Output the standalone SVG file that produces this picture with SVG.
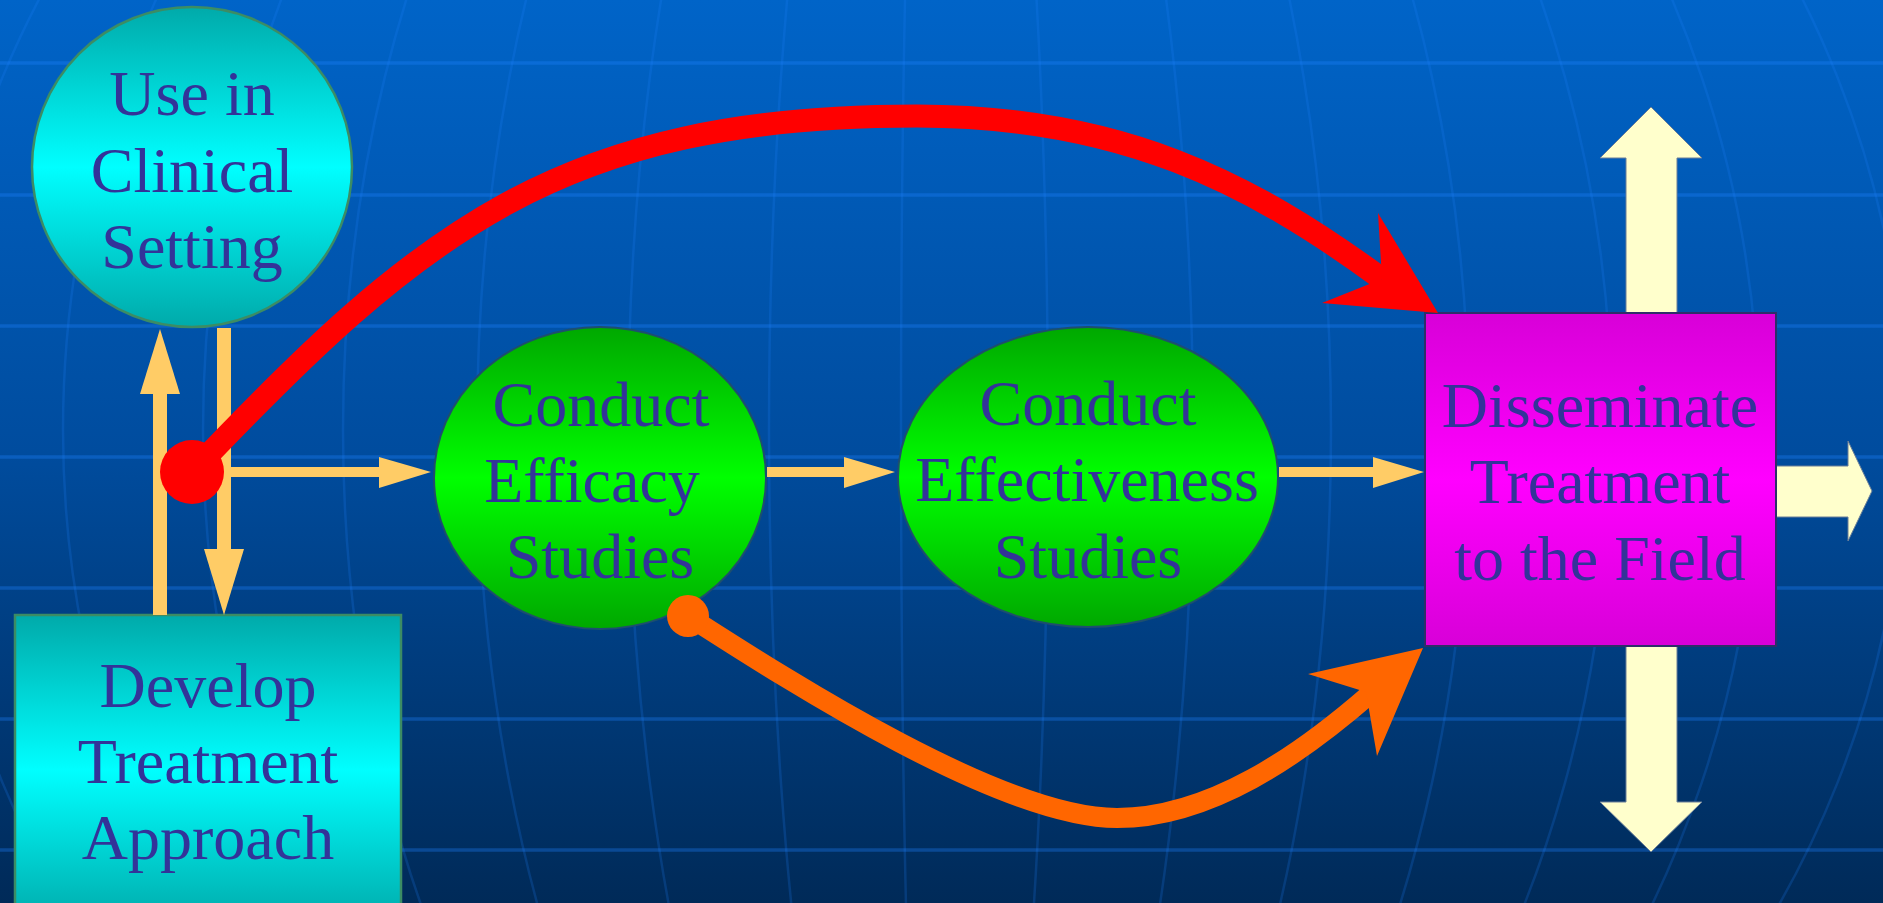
<svg xmlns="http://www.w3.org/2000/svg" width="1883" height="903" viewBox="0 0 1883 903">
  <defs>
    <linearGradient id="bg" x1="0" y1="0" x2="0" y2="1">
      <stop offset="0" stop-color="#0064C8"/>
      <stop offset="0.5" stop-color="#004C9E"/>
      <stop offset="1" stop-color="#002A58"/>
    </linearGradient>
    <linearGradient id="cyan" x1="0" y1="0" x2="0" y2="1">
      <stop offset="0" stop-color="#00AAAA"/>
      <stop offset="0.5" stop-color="#00FFFF"/>
      <stop offset="1" stop-color="#00AAAA"/>
    </linearGradient>
    <linearGradient id="green" x1="0" y1="0" x2="0" y2="1">
      <stop offset="0" stop-color="#00A800"/>
      <stop offset="0.5" stop-color="#00FF00"/>
      <stop offset="1" stop-color="#00A800"/>
    </linearGradient>
    <linearGradient id="magenta" x1="0" y1="0" x2="0" y2="1">
      <stop offset="0" stop-color="#D800D8"/>
      <stop offset="0.5" stop-color="#FF00FF"/>
      <stop offset="1" stop-color="#D800D8"/>
    </linearGradient>
    <style>
      .label { font-family: "Liberation Serif", "Times New Roman", serif; font-size: 64px; fill: #333399; text-anchor: middle; }
      .grid-h { stroke: #1E82FF; stroke-opacity: 0.33; stroke-width: 3.5; fill: none; }
      .grid-v { stroke: #1E82FF; stroke-opacity: 0.2; stroke-width: 2.5; fill: none; }
      .flow { fill: #FFCC66; }
      .spread { fill: #FFFFCC; stroke: #6A7F99; stroke-width: 1; }
    </style>
  </defs>

  <!-- backdrop: gradient with a globe-like grid -->
  <rect x="0" y="0" width="1883" height="903" fill="url(#bg)"/>
  <g id="grid">
    <path class="grid-h" d="M0 63H1883M0 195H1883M0 326H1883M0 457H1883M0 588H1883M0 719H1883M0 850H1883"/>
    <path class="grid-v" d="M940 -530A1008 960 0 0 0 940 1390"/>
    <path class="grid-v" d="M940 -530A877 960 0 0 0 940 1390"/>
    <path class="grid-v" d="M940 -530A737 960 0 0 0 940 1390"/>
    <path class="grid-v" d="M940 -530A597 960 0 0 0 940 1390"/>
    <path class="grid-v" d="M940 -530A463 960 0 0 0 940 1390"/>
    <path class="grid-v" d="M940 -530A312 960 0 0 0 940 1390"/>
    <path class="grid-v" d="M940 -530A171 960 0 0 0 940 1390"/>
    <path class="grid-v" d="M940 -530A39 960 0 0 0 940 1390"/>
    <path class="grid-v" d="M940 -530A108 960 0 0 1 940 1390"/>
    <path class="grid-v" d="M940 -530A253 960 0 0 1 940 1390"/>
    <path class="grid-v" d="M940 -530A391 960 0 0 1 940 1390"/>
    <path class="grid-v" d="M940 -530A529 960 0 0 1 940 1390"/>
    <path class="grid-v" d="M940 -530A672 960 0 0 1 940 1390"/>
    <path class="grid-v" d="M940 -530A819 960 0 0 1 940 1390"/>
    <path class="grid-v" d="M940 -530A965 960 0 0 1 940 1390"/>
  </g>

  <g id="node-use">
    <circle cx="192" cy="167" r="160" fill="url(#cyan)" stroke="#3C8C64" stroke-width="2.5"/>
    <text class="label" x="192" y="115">Use in</text>
    <text class="label" x="192" y="192">Clinical</text>
    <text class="label" x="192" y="268">Setting</text>
  </g>

  <g id="node-develop">
    <rect x="15" y="615" width="386" height="310" fill="url(#cyan)" stroke="#3C8C64" stroke-width="2.5"/>
    <text class="label" x="208" y="707">Develop</text>
    <text class="label" x="208" y="783">Treatment</text>
    <text class="label" x="208" y="859">Approach</text>
  </g>

  <g id="node-efficacy">
    <ellipse cx="600" cy="478" rx="166" ry="151" fill="url(#green)" stroke="#1D4F6E" stroke-width="2"/>
    <text class="label" x="601" y="426">Conduct</text>
    <text class="label" x="592" y="502">Efficacy</text>
    <text class="label" x="600" y="578">Studies</text>
  </g>

  <g id="node-effectiveness">
    <ellipse cx="1088" cy="477" rx="190" ry="150" fill="url(#green)" stroke="#1D4F6E" stroke-width="2"/>
    <text class="label" x="1088" y="425">Conduct</text>
    <text class="label" x="1087" y="501">Effectiveness</text>
    <text class="label" x="1088" y="578">Studies</text>
  </g>

  <!-- outward arrows around the dissemination box -->
  <g id="spread-arrows">
    <polygon class="spread" points="1626,314 1626,158 1600,158 1651,107 1702,158 1677,158 1677,314"/>
    <polygon class="spread" points="1626,645 1626,802 1600,802 1651,852 1702,802 1677,802 1677,645"/>
    <polygon class="spread" points="1775,466 1848,466 1848,441 1872,491 1848,541 1848,517 1775,517"/>
  </g>

  <g id="node-disseminate">
    <rect x="1425" y="313" width="351" height="333" fill="url(#magenta)" stroke="#2E2E6A" stroke-width="2"/>
    <text class="label" x="1600" y="427">Disseminate</text>
    <text class="label" x="1600" y="503">Treatment</text>
    <text class="label" x="1600" y="580">to the Field</text>
  </g>

  <g id="connectors">
    <!-- develop -> use in clinical setting -->
    <rect class="flow" x="153" y="392" width="14" height="223"/>
    <polygon class="flow" points="140,394 180,394 160,329"/>
    <!-- use in clinical setting -> develop -->
    <rect class="flow" x="217" y="328" width="14" height="223"/>
    <polygon class="flow" points="204,549 244,549 224,615"/>
    <!-- loop -> efficacy -->
    <rect class="flow" x="231" y="467" width="150" height="10"/>
    <polygon class="flow" points="379,457 379,488 431,472"/>
    <!-- efficacy -> effectiveness -->
    <rect class="flow" x="767" y="467" width="79" height="10"/>
    <polygon class="flow" points="844,457 844,488 895,472"/>
    <!-- effectiveness -> disseminate -->
    <rect class="flow" x="1279" y="467" width="96" height="10"/>
    <polygon class="flow" points="1373,457 1373,488 1424,472"/>

    <!-- shortcut from the clinical loop straight to dissemination -->
    <path d="M192,472 C420,232 560,116 917,116 C1120,116 1250,182 1382,279" fill="none" stroke="#FF0000" stroke-width="23"/>
    <polygon points="1438,313 1378,213 1382,279 1322,303" fill="#FF0000"/>
    <circle cx="192" cy="472" r="32" fill="#FF0000"/>

    <!-- shortcut from efficacy studies to dissemination -->
    <path d="M688,616 C780,675 1000,818 1117,818 C1210,818 1300,755 1370,694" fill="none" stroke="#FF6600" stroke-width="20"/>
    <polygon points="1423,648 1308,674 1366,692 1377,756" fill="#FF6600"/>
    <circle cx="688" cy="616" r="21" fill="#FF6600"/>
  </g>
</svg>
